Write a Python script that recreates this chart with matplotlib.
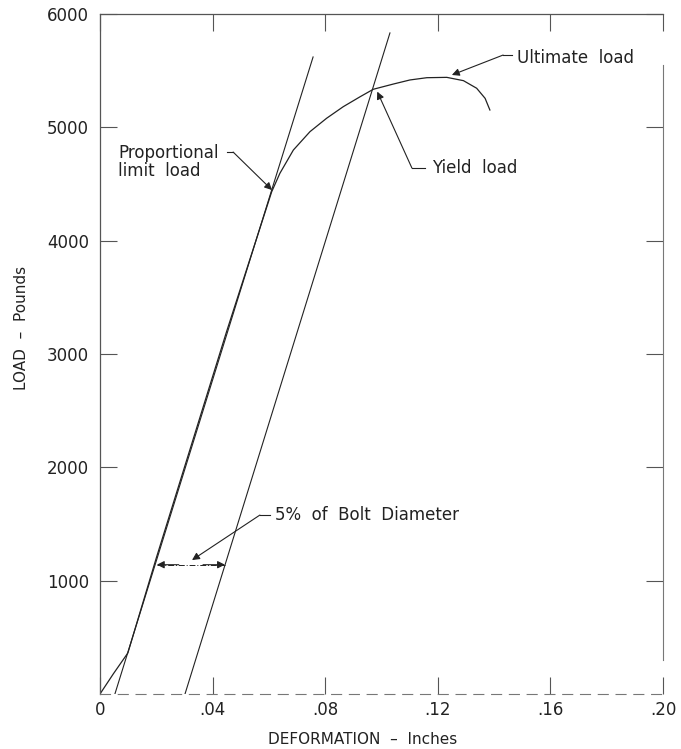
import matplotlib
matplotlib.use("Agg")
import matplotlib.pyplot as plt

# load-deformation curve
defl = [0.0, 0.0048, 0.0099, 0.020, 0.030, 0.045, 0.0610, 0.0639, 0.0687, 0.0746,
        0.0805, 0.0864, 0.0924, 0.0971, 0.1042, 0.1101, 0.1161, 0.1232, 0.1291,
        0.1338, 0.1368, 0.1385]
load = [0, 180, 362, 1200, 2000, 3200, 4432, 4594, 4800, 4962,
        5080, 5182, 5270, 5336, 5382, 5418, 5438, 5441, 5412,
        5345, 5256, 5153]

# elastic line and offset line (end points)
line1_x = [0.0053, 0.0757]
line1_y = [0, 5621]
line2_x = [0.0302, 0.103]
line2_y = [0, 5833]

xticks = [0, 0.04, 0.08, 0.12, 0.16, 0.20]
xlabels = ['0', '.04', '.08', '.12', '.16', '.20']
yticks = [1000, 2000, 3000, 4000, 5000, 6000]

plt.rcParams['font.family'] = ['DejaVu Sans']
ink = '#222222'

fig = plt.figure(figsize=(6.81, 7.49), dpi=100)
ax = fig.add_axes([0.1468, 0.0734, 0.8268, 0.9079])

ax.plot(defl, load, color=ink, lw=0.9)
ax.plot(line1_x, line1_y, color=ink, lw=0.8)
ax.plot(line2_x, line2_y, color=ink, lw=0.8)

ax.set_xlim(0, 0.2)
ax.set_ylim(0, 6000)
ax.set_xticks(xticks)
ax.set_xticklabels(xlabels)
ax.set_yticks(yticks)
ax.tick_params(direction='in', length=12, width=0.8, color='#555555',
               labelsize=12, labelcolor=ink)
ax.tick_params(axis='x', top=True, pad=5)
ax.tick_params(axis='y', right=True, pad=8)

for s in ['left', 'top']:
    ax.spines[s].set_color('#555555')
    ax.spines[s].set_linewidth(0.9)
ax.spines['right'].set_color('#777777')
ax.spines['right'].set_linewidth(0.8)
ax.spines['right'].set_bounds(300, 5550)
ax.spines['bottom'].set_color('#777777')
ax.spines['bottom'].set_linewidth(0.8)
ax.spines['bottom'].set_linestyle((0, (9, 7)))

ax.set_xlabel('DEFORMATION  \u2013  Inches', fontsize=11, color=ink)
ax.set_ylabel('LOAD  \u2013  Pounds', fontsize=11, color=ink)
ax.xaxis.set_label_coords(0.467, -0.056)
ax.yaxis.set_label_coords(-0.126, 0.538)

arrow = dict(arrowstyle='-|>', color=ink, lw=0.8, mutation_scale=11, shrinkA=0, shrinkB=0)

# Proportional limit load
ax.text(0.0064, 4694, 'Proportional\nlimit  load', fontsize=12, color=ink, va='center',
        linespacing=1.05)
ax.plot([0.0451, 0.0473], [4782, 4782], color=ink, lw=0.8)
ax.annotate('', xy=(0.0611, 4447), xytext=(0.0473, 4782), arrowprops=arrow)

# Ultimate load
ax.text(0.148, 5612, 'Ultimate  load', fontsize=12, color=ink, va='center')
ax.plot([0.1432, 0.1464], [5638, 5638], color=ink, lw=0.8)
ax.annotate('', xy=(0.125, 5462), xytext=(0.1432, 5638), arrowprops=arrow)

# Yield load
ax.text(0.118, 4641, 'Yield  load', fontsize=12, color=ink, va='center')
ax.plot([0.1108, 0.1155], [4641, 4641], color=ink, lw=0.8)
ax.annotate('', xy=(0.0985, 5315), xytext=(0.1108, 4641), arrowprops=arrow)

# 5% of bolt diameter
ax.text(0.0622, 1579, '5%  of  Bolt  Diameter', fontsize=12, color=ink, va='center')
ax.plot([0.0568, 0.0604], [1579, 1579], color=ink, lw=0.8)
ax.annotate('', xy=(0.0327, 1182), xytext=(0.0568, 1579), arrowprops=arrow)

ax.plot([0.0202, 0.0444], [1141, 1141], color=ink, lw=0.7, ls=(0, (6, 2, 1, 2)))
ax.annotate('', xy=(0.0202, 1141), xytext=(0.028, 1141), arrowprops=arrow)
ax.annotate('', xy=(0.0444, 1141), xytext=(0.0366, 1141), arrowprops=arrow)

fig.savefig('out.png', dpi=100)
